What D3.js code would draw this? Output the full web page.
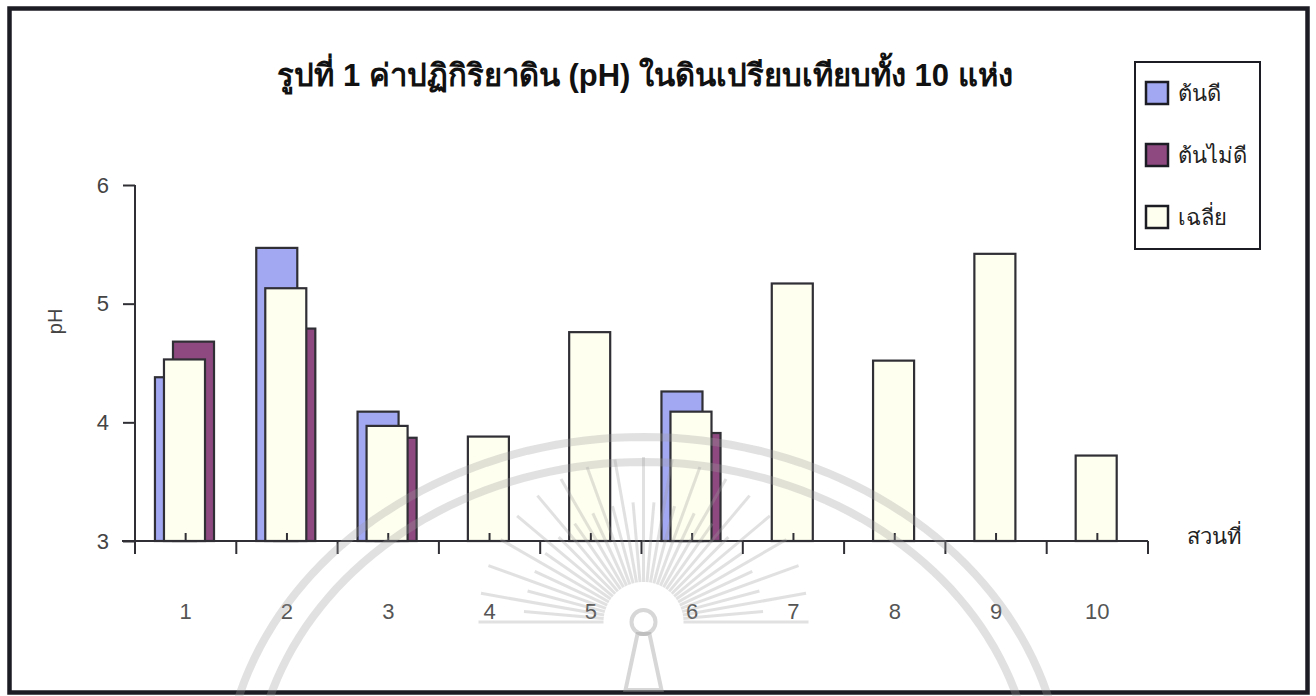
<!DOCTYPE html>
<html>
<head>
<meta charset="utf-8">
<script src="https://cdn.jsdelivr.net/npm/d3@7"></script>
<style>
  html, body { margin: 0; padding: 0; background: #fff; }
  svg { display: block; }
  text { font-family: "Liberation Sans", Arial, "Noto Sans", sans-serif; }
</style>
</head>
<body>
<svg id="chart" width="1316" height="696"></svg>
<script>
// Soil pH per orchard plot: good trees, poor trees and their mean
const plots = ["1", "2", "3", "4", "5", "6", "7", "8", "9", "10"];
const goodTrees = [4.38, 5.47, 4.09, null, null, 4.26, null, null, null, null];
const poorTrees = [4.68, 4.79, 3.87, null, null, 3.91, null, null, null, null];
const meanPH   = [4.53, 5.13, 3.97, 3.88, 4.76, 4.09, 5.17, 4.52, 5.42, 3.72];
const yTicks = [3, 4, 5, 6];

const seriesNames = ["ต้นดี", "ต้นไม่ดี", "เฉลี่ย"];
const seriesColors = ["#a2a8f2", "#8e4a80", "#fffff0"];

const title = "รูปที่ 1 ค่าปฏิกิริยาดิน (pH) ในดินเปรียบเทียบทั้ง 10 แห่ง";
const yTitle = "pH";
const xTitle = "สวนที่";

const svg = d3.select("#chart");
const ink = "#2f2f35";

const x = d3.scaleBand().domain(plots).range([135, 1148]).paddingInner(0).paddingOuter(0);
const y = d3.scaleLinear().domain([3, 6]).range([541, 185]);

const bw = x.bandwidth();
const barW = bw * 0.405;
const step = bw * 0.089;
const firstOff = bw * 0.197;

// outer frame
svg.append("rect")
  .attr("x", 9.5).attr("y", 8.5).attr("width", 1298).attr("height", 684)
  .attr("fill", "#fff").attr("stroke", "#1c1c24").attr("stroke-width", 4.5);

// title
svg.append("text")
  .attr("x", 645).attr("y", 86)
  .attr("text-anchor", "middle")
  .attr("font-size", 31).attr("font-weight", "bold").attr("fill", "#111")
  .text(title);

// bars: good trees (left), poor trees (right), mean (front, centre)
const barGroups = [
  { vals: goodTrees, off: firstOff, color: seriesColors[0] },
  { vals: poorTrees, off: firstOff + 2 * step, color: seriesColors[1] },
  { vals: meanPH,   off: firstOff + step, color: seriesColors[2] }
];
barGroups.forEach(g => {
  const data = plots.map((p, i) => ({ p, v: g.vals[i] })).filter(d => d.v != null);
  svg.append("g").selectAll("rect").data(data).join("rect")
    .attr("x", d => x(d.p) + g.off)
    .attr("y", d => y(d.v))
    .attr("width", barW)
    .attr("height", d => y(3) - y(d.v))
    .attr("fill", g.color)
    .attr("stroke", ink).attr("stroke-width", 2.2);
});

// y axis
const yAxis = svg.append("g").attr("transform", "translate(135,0)")
  .call(d3.axisLeft(y).tickValues(yTicks).tickSize(12).tickPadding(14).tickFormat(d3.format("d")));
yAxis.select(".domain").attr("stroke", ink).attr("stroke-width", 2).attr("d", `M0,${y(6)}V${y(3)}`);
yAxis.selectAll(".tick line").attr("stroke", ink).attr("stroke-width", 2);
yAxis.selectAll(".tick text").attr("font-size", 22).attr("fill", "#444")
  .attr("font-family", "Liberation Sans, Arial, sans-serif");

// x axis: boundary ticks below, centre ticks pointing up
const xAxisG = svg.append("g").attr("transform", `translate(0,${y(3)})`);
xAxisG.append("line").attr("x1", 122).attr("x2", x.range()[1])
  .attr("stroke", ink).attr("stroke-width", 2);
const bounds = plots.map(p => x(p)).concat([x.range()[1]]);
xAxisG.selectAll("line.b").data(bounds).join("line").attr("class", "b")
  .attr("x1", d => d).attr("x2", d => d).attr("y1", 0).attr("y2", 13)
  .attr("stroke", ink).attr("stroke-width", 2);
xAxisG.selectAll("line.c").data(plots).join("line").attr("class", "c")
  .attr("x1", d => x(d) + bw / 2).attr("x2", d => x(d) + bw / 2).attr("y1", 0).attr("y2", -8)
  .attr("stroke", ink).attr("stroke-width", 2);
xAxisG.selectAll("text").data(plots).join("text")
  .attr("x", d => x(d) + bw / 2).attr("y", 78)
  .attr("text-anchor", "middle").attr("font-size", 22).attr("fill", "#555")
  .text(d => d);

// axis titles
svg.append("text")
  .attr("transform", `translate(62,${y(4.85)}) rotate(-90)`)
  .attr("text-anchor", "middle").attr("font-size", 20).attr("fill", "#444")
  .text(yTitle);
svg.append("text")
  .attr("x", 1187).attr("y", y(3.0) + 3)
  .attr("font-size", 22).attr("fill", "#222")
  .text(xTitle);

// legend
const lg = svg.append("g");
lg.append("rect").attr("x", 1135).attr("y", 62).attr("width", 125).attr("height", 187)
  .attr("fill", "#fff").attr("stroke", "#1c1c24").attr("stroke-width", 2);
seriesNames.forEach((name, i) => {
  const cy = 93 + i * 62;
  lg.append("rect").attr("x", 1146).attr("y", cy - 11).attr("width", 22).attr("height", 22)
    .attr("fill", seriesColors[i]).attr("stroke", "#1c1c24").attr("stroke-width", 2.5);
  lg.append("text").attr("x", 1178).attr("y", cy + 8)
    .attr("font-size", 22).attr("fill", "#222").text(name);
});

// faint emblem watermark printed across the lower half of the page
const wm = svg.append("g").attr("pointer-events", "none");
const cx = (x("5") + x("6") + bw) / 2 + 2;
const arcPath = (rx, ry, cy) => {
  const pts = d3.range(180, 361, 2).map(a => {
    const r = a * Math.PI / 180;
    return [cx + rx * Math.cos(r), cy + ry * Math.sin(r)];
  });
  return d3.line()(pts);
};
wm.append("path").attr("d", arcPath(420, 355, 792)).attr("fill", "none")
  .attr("stroke", "#9a9a9a").attr("stroke-opacity", 0.3).attr("stroke-width", 8);
wm.append("path").attr("d", arcPath(390, 330, 792)).attr("fill", "none")
  .attr("stroke", "#9a9a9a").attr("stroke-opacity", 0.3).attr("stroke-width", 8);
const sun = { x: cx, y: 622 };
const rays = d3.range(180, 361, 5);
wm.selectAll("line.ray").data(rays).join("line").attr("class", "ray")
  .attr("x1", a => sun.x + 40 * Math.cos(a * Math.PI / 180))
  .attr("y1", a => sun.y + 40 * Math.sin(a * Math.PI / 180))
  .attr("x2", (a, i) => sun.x + (i % 2 ? 120 : 165) * Math.cos(a * Math.PI / 180))
  .attr("y2", (a, i) => sun.y + (i % 2 ? 120 : 165) * Math.sin(a * Math.PI / 180))
  .attr("stroke", "#9a9a9a").attr("stroke-opacity", 0.3).attr("stroke-width", 3);
wm.append("circle").attr("cx", sun.x).attr("cy", sun.y).attr("r", 12)
  .attr("fill", "none").attr("stroke", "#9a9a9a").attr("stroke-opacity", 0.4).attr("stroke-width", 4);
wm.append("path")
  .attr("d", `M${sun.x - 6},${sun.y + 12}L${sun.x - 18},690L${sun.x + 18},690L${sun.x + 6},${sun.y + 12}Z`)
  .attr("fill", "none").attr("stroke", "#9a9a9a").attr("stroke-opacity", 0.4).attr("stroke-width", 4);
</script>
</body>
</html>
